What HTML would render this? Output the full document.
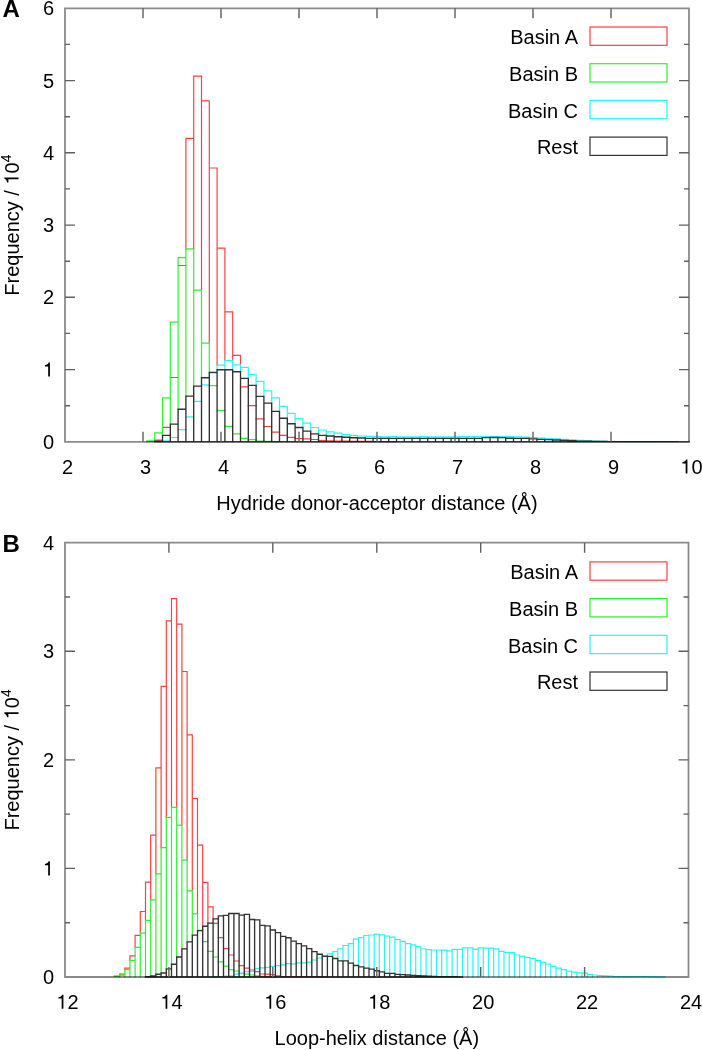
<!DOCTYPE html>
<html><head><meta charset="utf-8"><style>
html,body{margin:0;padding:0;background:#fff;}
body{width:702px;height:1050px;overflow:hidden;}
svg{display:block;will-change:transform;}
.t{font-family:"Liberation Sans",sans-serif;font-size:20px;fill:#000;}
.sup{font-size:14px;}
.h1{fill:transparent;}
.L{font-family:"Liberation Sans",sans-serif;font-size:24px;font-weight:bold;fill:#000;}
</style></head><body>
<svg width="702" height="1050" viewBox="0 0 702 1050">
<rect width="702" height="1050" fill="#fff"/>
<clipPath id="cA"><rect x="64.0" y="7.3" width="626.0" height="435.5"/></clipPath>
<g clip-path="url(#cA)">
<path d="M185.9 248.9V138.4M193.7 248.9V76.2M201.5 290.1V76.2M209.3 343.1V100.8M217.1 365.2V168.0M224.9 360.6V248.2M232.7 360.6V311.8M240.5 364.9V355.4M146.9 441.5H154.7M154.7 440.1H162.5M162.5 427.4H170.3M170.3 377.5H178.1M178.1 265.5H185.9M185.9 138.4H193.7M193.7 76.2H201.5M201.5 100.8H209.3M209.3 168.0H217.1M217.1 248.2H224.9M224.9 311.8H232.7M232.7 355.4H240.5M240.5 386.8H248.3M248.3 405.7H256.1M256.1 418.8H263.9M263.9 426.5H271.7M271.7 432.1H279.5M279.5 435.4H287.3M287.3 437.4H295.1M295.1 438.5H302.9M302.9 438.9H310.7M310.7 439.5H318.5M318.5 440.6H326.3M326.3 440.9H334.1M334.1 441.1H341.9M341.9 441.2H349.7M349.7 441.3H357.5M357.5 441.4H365.3M365.3 441.4H373.1M373.1 441.5H380.9M380.9 441.6H388.7M388.7 441.7H396.5" fill="none" stroke="#ff4040" stroke-width="1.2" stroke-linecap="square"/>
<path d="M146.9 441.8V440.9M154.7 441.2V432.8M162.5 435.4V397.8M170.3 424.1V322.1M178.1 409.2V257.6M185.9 396.1V248.9M193.7 386.1V248.9M201.5 377.7V290.1M209.3 372.3V343.1M146.9 440.9H154.7M154.7 432.8H162.5M162.5 397.8H170.3M170.3 322.1H178.1M178.1 257.6H185.9M185.9 248.9H193.7M193.7 290.1H201.5M201.5 343.1H209.3M209.3 385.7H217.1M217.1 410.4H224.9M224.9 426.3H232.7M232.7 433.9H240.5M240.5 438.3H248.3M248.3 439.6H256.1M256.1 441.1H263.9M263.9 441.4H271.7M271.7 441.6H279.5" fill="none" stroke="#30f030" stroke-width="1.2" stroke-linecap="square"/>
<path d="M217.1 369.7V365.2M224.9 369.7V360.6M232.7 369.7V360.6M240.5 371.7V364.9M248.3 378.4V367.4M256.1 385.4V374.5M263.9 396.4V381.4M271.7 403.1V390.9M279.5 411.4V397.8M287.3 418.2V406.4M295.1 423.7V413.3M302.9 427.5V418.5M310.7 431.1V423.1M318.5 433.8V427.5M326.3 435.4V430.0M334.1 436.0V431.9M341.9 436.7V433.1M349.7 437.2V434.7M357.5 437.7V435.4M365.3 438.0V436.0M373.1 438.3V436.4M380.9 438.3V436.7M388.7 438.3V436.7M396.5 438.3V436.7M404.3 438.3V436.8M412.1 438.3V436.8M419.9 438.3V436.7M427.7 438.3V436.7M435.5 438.3V436.8M443.3 438.3V436.9M451.1 438.3V436.8M458.9 438.3V436.7M466.7 438.3V436.7M474.5 438.3V436.7M482.3 437.6V436.7M490.1 437.5V436.6M497.9 437.5V436.6M505.7 437.6V436.6M513.5 438.2V436.7M521.3 438.3V436.9M529.1 438.4V437.1M536.9 438.8V437.5M544.7 439.3V438.2M552.5 439.6V438.5M560.3 440.0V438.9M568.1 440.4V439.3M575.9 440.7V439.8M583.7 441.1V440.4M591.5 441.2V440.7M599.3 441.4V441.1M607.1 441.5V441.4M614.9 441.6V441.5M162.5 440.9H170.3M170.3 437.5H178.1M178.1 429.6H185.9M185.9 416.8H193.7M193.7 401.3H201.5M201.5 384.9H209.3M209.3 372.8H217.1M217.1 365.2H224.9M224.9 360.6H232.7M232.7 364.9H240.5M240.5 367.4H248.3M248.3 374.5H256.1M256.1 381.4H263.9M263.9 390.9H271.7M271.7 397.8H279.5M279.5 406.4H287.3M287.3 413.3H295.1M295.1 418.5H302.9M302.9 423.1H310.7M310.7 427.5H318.5M318.5 430.0H326.3M326.3 431.9H334.1M334.1 433.1H341.9M341.9 434.7H349.7M349.7 435.4H357.5M357.5 436.0H365.3M365.3 436.4H373.1M373.1 436.7H380.9M380.9 436.8H388.7M388.7 436.7H396.5M396.5 436.8H404.3M404.3 436.9H412.1M412.1 436.8H419.9M419.9 436.7H427.7M427.7 436.8H435.5M435.5 436.9H443.3M443.3 436.9H451.1M451.1 436.8H458.9M458.9 436.7H466.7M466.7 436.7H474.5M474.5 436.7H482.3M482.3 436.7H490.1M490.1 436.6H497.9M497.9 436.6H505.7M505.7 436.7H513.5M513.5 436.9H521.3M521.3 437.1H529.1M529.1 437.5H536.9M536.9 438.2H544.7M544.7 438.5H552.5M552.5 438.9H560.3M560.3 439.3H568.1M568.1 439.8H575.9M575.9 440.4H583.7M583.7 440.7H591.5M591.5 441.1H599.3M599.3 441.4H607.1M607.1 441.5H614.9M614.9 441.7H622.7M622.7 441.7H630.5M630.5 441.7H638.3M638.3 441.7H646.1M646.1 441.7H653.9M653.9 441.7H661.7M661.7 441.7H669.5" fill="none" stroke="#28f6f6" stroke-width="1.2" stroke-linecap="square"/>
<path d="M154.7 441.8V441.2M162.5 441.8V435.4M170.3 441.8V424.1M178.1 441.8V409.2M185.9 441.8V396.1M193.7 441.8V386.1M201.5 441.8V377.7M209.3 441.8V372.3M217.1 441.8V369.7M224.9 441.8V369.7M232.7 441.8V369.7M240.5 441.8V371.7M248.3 441.8V378.4M256.1 441.8V385.4M263.9 441.8V396.4M271.7 441.8V403.1M279.5 441.8V411.4M287.3 441.8V418.2M295.1 441.8V423.7M302.9 441.8V427.5M310.7 441.8V431.1M318.5 441.8V433.8M326.3 441.8V435.4M334.1 441.8V436.0M341.9 441.8V436.7M349.7 441.8V437.2M357.5 441.8V437.7M365.3 441.8V438.0M373.1 441.8V438.3M380.9 441.8V438.3M388.7 441.8V438.3M396.5 441.8V438.3M404.3 441.8V438.3M412.1 441.8V438.3M419.9 441.8V438.3M427.7 441.8V438.3M435.5 441.8V438.3M443.3 441.8V438.3M451.1 441.8V438.3M458.9 441.8V438.3M466.7 441.8V438.3M474.5 441.8V438.3M482.3 441.8V437.6M490.1 441.8V437.5M497.9 441.8V437.5M505.7 441.8V437.6M513.5 441.8V438.2M521.3 441.8V438.3M529.1 441.8V438.4M536.9 441.8V438.8M544.7 441.8V439.3M552.5 441.8V439.6M560.3 441.8V440.0M568.1 441.8V440.4M575.9 441.8V440.7M583.7 441.8V441.1M591.5 441.8V441.2M599.3 441.8V441.4M607.1 441.8V441.5M614.9 441.8V441.6M622.7 441.8V441.6M630.5 441.8V441.6M638.3 441.8V441.7M646.1 441.8V441.7M653.9 441.8V441.7M661.7 441.8V441.7M669.5 441.8V441.7M677.3 441.8V441.7M154.7 441.2H162.5M154.7 441.8H162.5M162.5 435.4H170.3M162.5 441.8H170.3M170.3 424.1H178.1M170.3 441.8H178.1M178.1 409.2H185.9M178.1 441.8H185.9M185.9 396.1H193.7M185.9 441.8H193.7M193.7 386.1H201.5M193.7 441.8H201.5M201.5 377.7H209.3M201.5 441.8H209.3M209.3 372.3H217.1M209.3 441.8H217.1M217.1 369.7H224.9M217.1 441.8H224.9M224.9 369.7H232.7M224.9 441.8H232.7M232.7 371.7H240.5M232.7 441.8H240.5M240.5 378.4H248.3M240.5 441.8H248.3M248.3 385.4H256.1M248.3 441.8H256.1M256.1 396.4H263.9M256.1 441.8H263.9M263.9 403.1H271.7M263.9 441.8H271.7M271.7 411.4H279.5M271.7 441.8H279.5M279.5 418.2H287.3M279.5 441.8H287.3M287.3 423.7H295.1M287.3 441.8H295.1M295.1 427.5H302.9M295.1 441.8H302.9M302.9 431.1H310.7M302.9 441.8H310.7M310.7 433.8H318.5M310.7 441.8H318.5M318.5 435.4H326.3M318.5 441.8H326.3M326.3 436.0H334.1M326.3 441.8H334.1M334.1 436.7H341.9M334.1 441.8H341.9M341.9 437.2H349.7M341.9 441.8H349.7M349.7 437.7H357.5M349.7 441.8H357.5M357.5 438.0H365.3M357.5 441.8H365.3M365.3 438.3H373.1M365.3 441.8H373.1M373.1 438.3H380.9M373.1 441.8H380.9M380.9 438.3H388.7M380.9 441.8H388.7M388.7 438.3H396.5M388.7 441.8H396.5M396.5 438.3H404.3M396.5 441.8H404.3M404.3 438.3H412.1M404.3 441.8H412.1M412.1 438.3H419.9M412.1 441.8H419.9M419.9 438.3H427.7M419.9 441.8H427.7M427.7 438.3H435.5M427.7 441.8H435.5M435.5 438.3H443.3M435.5 441.8H443.3M443.3 438.3H451.1M443.3 441.8H451.1M451.1 438.3H458.9M451.1 441.8H458.9M458.9 438.3H466.7M458.9 441.8H466.7M466.7 438.3H474.5M466.7 441.8H474.5M474.5 438.3H482.3M474.5 441.8H482.3M482.3 437.6H490.1M482.3 441.8H490.1M490.1 437.5H497.9M490.1 441.8H497.9M497.9 437.6H505.7M497.9 441.8H505.7M505.7 438.2H513.5M505.7 441.8H513.5M513.5 438.3H521.3M513.5 441.8H521.3M521.3 438.4H529.1M521.3 441.8H529.1M529.1 438.8H536.9M529.1 441.8H536.9M536.9 439.3H544.7M536.9 441.8H544.7M544.7 439.6H552.5M544.7 441.8H552.5M552.5 440.0H560.3M552.5 441.8H560.3M560.3 440.4H568.1M560.3 441.8H568.1M568.1 440.7H575.9M568.1 441.8H575.9M575.9 441.1H583.7M575.9 441.8H583.7M583.7 441.2H591.5M583.7 441.8H591.5M591.5 441.4H599.3M591.5 441.8H599.3M599.3 441.5H607.1M599.3 441.8H607.1M607.1 441.6H614.9M607.1 441.8H614.9M614.9 441.6H622.7M614.9 441.8H622.7M622.7 441.6H630.5M622.7 441.8H630.5M630.5 441.7H638.3M630.5 441.8H638.3M638.3 441.7H646.1M638.3 441.8H646.1M646.1 441.7H653.9M646.1 441.8H653.9M653.9 441.7H661.7M653.9 441.8H661.7M661.7 441.7H669.5M661.7 441.8H669.5M669.5 441.7H677.3M669.5 441.8H677.3M677.3 441.8H685.1M677.3 441.8H685.1M685.1 441.8H692.9M685.1 441.8H692.9" fill="none" stroke="#333333" stroke-width="1.35" stroke-linecap="square"/>
</g>
<path d="M65.0 8.3H689.0V441.8H65.0Z" fill="none" stroke="#000" stroke-opacity="0.46" stroke-width="1.8"/>
<path d="M143.0 441.8v-10M143.0 8.3v10M221.0 441.8v-10M221.0 8.3v10M299.0 441.8v-10M299.0 8.3v10M377.0 441.8v-10M377.0 8.3v10M455.0 441.8v-10M455.0 8.3v10M533.0 441.8v-10M533.0 8.3v10M611.0 441.8v-10M611.0 8.3v10M65.0 369.6h10M689.0 369.6h-10M65.0 297.3h10M689.0 297.3h-10M65.0 225.1h10M689.0 225.1h-10M65.0 152.8h10M689.0 152.8h-10M65.0 80.6h10M689.0 80.6h-10M65.0 405.7h5M689.0 405.7h-5M65.0 333.4h5M689.0 333.4h-5M65.0 261.2h5M689.0 261.2h-5M65.0 188.9h5M689.0 188.9h-5M65.0 116.7h5M689.0 116.7h-5M65.0 44.4h5M689.0 44.4h-5" fill="none" stroke="#606060" stroke-width="1.4"/>
<text x="67.5" y="473.5" text-anchor="middle" class="t">2</text>
<text x="145.5" y="473.5" text-anchor="middle" class="t">3</text>
<text x="223.5" y="473.5" text-anchor="middle" class="t">4</text>
<text x="301.5" y="473.5" text-anchor="middle" class="t">5</text>
<text x="379.5" y="473.5" text-anchor="middle" class="t">6</text>
<text x="457.5" y="473.5" text-anchor="middle" class="t">7</text>
<text x="535.5" y="473.5" text-anchor="middle" class="t">8</text>
<text x="613.5" y="473.5" text-anchor="middle" class="t">9</text>
<text x="691.5" y="473.5" text-anchor="middle" class="t"><tspan class="h1">1</tspan>0</text>
<text x="54" y="448.8" text-anchor="end" class="t">0</text>
<text x="54" y="376.6" text-anchor="end" class="t"><tspan class="h1">1</tspan></text>
<text x="54" y="304.3" text-anchor="end" class="t">2</text>
<text x="54" y="232.1" text-anchor="end" class="t">3</text>
<text x="54" y="159.8" text-anchor="end" class="t">4</text>
<text x="54" y="87.6" text-anchor="end" class="t">5</text>
<text x="54" y="15.3" text-anchor="end" class="t">6</text>
<text x="377.0" y="509.8" text-anchor="middle" class="t">Hydride donor-acceptor distance (Å)</text>
<text transform="translate(18.5 225.1) rotate(-90)" text-anchor="middle" class="t">Frequency / <tspan class="h1">1</tspan>0<tspan class="sup" dy="-7.6">4</tspan></text>
<text x="2.5" y="17.3" class="L">A</text>
<rect x="590" y="27.0" width="77" height="18.3" fill="none" stroke="#ff4040" stroke-width="1.2"/>
<text x="578" y="44.3" text-anchor="end" class="t">Basin A</text>
<rect x="590" y="63.7" width="77" height="18.3" fill="none" stroke="#30f030" stroke-width="1.2"/>
<text x="578" y="81.0" text-anchor="end" class="t">Basin B</text>
<rect x="590" y="100.4" width="77" height="18.3" fill="none" stroke="#28f6f6" stroke-width="1.2"/>
<text x="578" y="117.7" text-anchor="end" class="t">Basin C</text>
<rect x="590" y="137.1" width="77" height="18.3" fill="none" stroke="#333333" stroke-width="1.2"/>
<text x="578" y="154.4" text-anchor="end" class="t">Rest</text>
<clipPath id="cB"><rect x="64.0" y="541.7" width="625.5" height="436.3"/></clipPath>
<g clip-path="url(#cB)">
<path d="M114.4 976.5V976.2M119.6 975.2V974.2M124.8 969.6V968.2M129.9 960.4V955.9M135.1 947.4V935.4M140.3 933.2V911.5M145.5 920.3V882.1M150.7 899.8V835.2M155.9 873.9V767.8M161.1 847.6V686.3M166.3 817.4V620.9M171.5 807.3V598.6M176.7 807.3V598.6M181.9 825.2V624.1M187.1 860.1V671.5M192.3 890.9V734.9M197.5 913.8V798.5M202.7 926.2V845.2M207.9 923.1V882.3M213.1 918.9V906.9M114.4 976.2H119.6M119.6 974.2H124.8M124.8 968.2H129.9M129.9 955.9H135.1M135.1 935.4H140.3M140.3 911.5H145.5M145.5 882.1H150.7M150.7 835.2H155.9M155.9 767.8H161.1M161.1 686.3H166.3M166.3 620.9H171.5M171.5 598.6H176.7M176.7 624.1H181.9M181.9 671.5H187.1M187.1 734.9H192.3M192.3 798.5H197.5M197.5 845.2H202.7M202.7 882.3H207.9M207.9 906.9H213.1M213.1 923.3H218.3M218.3 937.7H223.5M223.5 948.6H228.7M228.7 955.0H233.9M233.9 961.0H239.1M239.1 965.6H244.3M244.3 968.2H249.5M249.5 971.0H254.6M254.6 971.7H259.8M259.8 974.0H265.0M265.0 974.2H270.2M270.2 974.7H275.4M275.4 975.9H280.6M280.6 976.5H285.8M285.8 976.5H291.0M291.0 976.5H296.2M296.2 976.6H301.4M301.4 976.6H306.6M306.6 976.7H311.8M311.8 976.7H317.0M317.0 976.8H322.2M322.2 976.8H327.4" fill="none" stroke="#ff4040" stroke-width="1.2" stroke-linecap="square"/>
<path d="M114.4 977.0V976.5M119.6 977.0V975.2M124.8 977.0V969.6M129.9 977.0V960.4M135.1 977.0V947.4M140.3 977.0V933.2M145.5 976.6V920.3M150.7 975.9V899.8M155.9 974.2V873.9M161.1 973.0V847.6M166.3 968.9V817.4M171.5 964.2V807.3M176.7 957.0V807.3M181.9 948.9V825.2M187.1 941.9V860.1M192.3 935.1V890.9M197.5 930.6V913.8M114.4 976.5H119.6M119.6 975.2H124.8M124.8 969.6H129.9M129.9 960.4H135.1M135.1 947.4H140.3M140.3 933.2H145.5M145.5 920.3H150.7M150.7 899.8H155.9M155.9 873.9H161.1M161.1 847.6H166.3M166.3 817.4H171.5M171.5 807.3H176.7M176.7 825.2H181.9M181.9 860.1H187.1M187.1 890.9H192.3M192.3 913.8H197.5M197.5 930.3H202.7M202.7 941.7H207.9M207.9 951.3H213.1M213.1 957.0H218.3M218.3 961.8H223.5M223.5 966.1H228.7M228.7 969.6H233.9M233.9 971.0H239.1M239.1 973.6H244.3M244.3 974.2H249.5M249.5 975.0H254.6M254.6 975.9H259.8M259.8 976.3H265.0M265.0 976.6H270.2M270.2 976.8H275.4" fill="none" stroke="#30f030" stroke-width="1.2" stroke-linecap="square"/>
<path d="M327.4 956.2V953.8M332.6 956.4V951.6M337.8 958.5V948.8M343.0 960.9V945.5M348.2 960.9V943.7M353.4 963.1V939.1M358.6 965.5V937.7M363.8 966.9V935.5M369.0 968.1V935.0M374.2 969.1V934.1M379.3 970.7V934.1M384.5 971.9V934.8M389.7 973.4V936.0M394.9 973.4V937.2M400.1 974.3V939.7M405.3 974.6V941.3M410.5 975.0V943.7M415.7 975.4V944.9M420.9 975.7V946.6M426.1 975.9V949.0M431.3 976.1V949.6M436.5 976.3V950.0M441.7 976.6V950.0M446.9 976.6V950.2M452.1 976.6V949.3M457.3 976.7V949.3M462.5 976.8V947.8M467.7 977.0V947.8M472.9 977.0V947.8M478.1 977.0V947.8M483.3 977.0V947.8M488.5 977.0V948.1M493.7 977.0V948.1M498.9 977.0V948.8M504.0 977.0V951.4M509.2 977.0V952.4M514.4 977.0V952.6M519.6 977.0V955.0M524.8 977.0V956.2M530.0 977.0V957.3M535.2 977.0V958.3M540.4 977.0V960.4M545.6 977.0V962.3M550.8 977.0V964.0M556.0 977.0V966.3M561.2 977.0V968.2M566.4 977.0V969.6M571.6 977.0V971.2M576.8 977.0V972.2M582.0 977.0V972.8M587.2 977.0V973.2M592.4 977.0V974.4M597.6 977.0V975.0M602.8 977.0V975.6M608.0 977.0V975.8M613.2 977.0V976.2M618.4 977.0V976.6M623.6 977.0V976.6M628.7 977.0V976.6M633.9 977.0V976.6M639.1 977.0V976.6M644.3 977.0V976.6M649.5 977.0V976.6M654.7 977.0V976.6M659.9 977.0V976.8M665.1 977.0V976.8M213.1 976.8H218.3M218.3 976.5H223.5M223.5 976.1H228.7M228.7 975.9H233.9M233.9 974.2H239.1M239.1 973.2H244.3M244.3 971.6H249.5M249.5 969.6H254.6M254.6 968.7H259.8M259.8 967.9H265.0M265.0 967.3H270.2M270.2 966.4H275.4M275.4 965.6H280.6M280.6 964.8H285.8M285.8 963.6H291.0M291.0 963.9H296.2M296.2 962.8H301.4M301.4 962.8H306.6M306.6 962.2H311.8M311.8 960.0H317.0M317.0 958.0H322.2M322.2 956.4H327.4M327.4 953.8H332.6M332.6 951.6H337.8M337.8 948.8H343.0M343.0 945.5H348.2M348.2 943.7H353.4M353.4 939.1H358.6M358.6 937.7H363.8M363.8 935.5H369.0M369.0 935.0H374.2M374.2 934.1H379.3M379.3 934.8H384.5M384.5 936.0H389.7M389.7 937.2H394.9M394.9 939.7H400.1M400.1 941.3H405.3M405.3 943.7H410.5M410.5 944.9H415.7M415.7 946.6H420.9M420.9 949.0H426.1M426.1 949.6H431.3M431.3 950.0H436.5M436.5 950.0H441.7M441.7 950.2H446.9M446.9 950.8H452.1M452.1 949.3H457.3M457.3 949.3H462.5M462.5 947.8H467.7M467.7 947.8H472.9M472.9 949.3H478.1M478.1 947.8H483.3M483.3 948.1H488.5M488.5 948.1H493.7M493.7 948.8H498.9M498.9 951.4H504.0M504.0 952.4H509.2M509.2 952.6H514.4M514.4 955.0H519.6M519.6 956.2H524.8M524.8 957.3H530.0M530.0 958.3H535.2M535.2 960.4H540.4M540.4 962.3H545.6M545.6 964.0H550.8M550.8 966.3H556.0M556.0 968.2H561.2M561.2 969.6H566.4M566.4 971.2H571.6M571.6 972.2H576.8M576.8 972.8H582.0M582.0 973.2H587.2M587.2 974.4H592.4M592.4 975.0H597.6M597.6 975.6H602.8M602.8 975.8H608.0M608.0 976.2H613.2M613.2 976.6H618.4M618.4 976.6H623.6M623.6 976.6H628.7M628.7 976.6H633.9M633.9 976.6H639.1M639.1 976.6H644.3M644.3 976.6H649.5M649.5 976.6H654.7M654.7 976.8H659.9M659.9 976.8H665.1" fill="none" stroke="#28f6f6" stroke-width="1.2" stroke-linecap="square"/>
<path d="M145.5 977.0V976.6M150.7 977.0V975.9M155.9 977.0V974.2M161.1 977.0V973.0M166.3 977.0V968.9M171.5 977.0V964.2M176.7 977.0V957.0M181.9 977.0V948.9M187.1 977.0V941.9M192.3 977.0V935.1M197.5 977.0V930.6M202.7 977.0V926.2M207.9 977.0V923.1M213.1 977.0V918.9M218.3 977.0V915.8M223.5 977.0V915.4M228.7 977.0V913.5M233.9 977.0V913.5M239.1 977.0V913.5M244.3 977.0V914.4M249.5 977.0V914.4M254.6 977.0V919.5M259.8 977.0V919.8M265.0 977.0V925.4M270.2 977.0V925.8M275.4 977.0V930.0M280.6 977.0V932.6M285.8 977.0V936.3M291.0 977.0V937.7M296.2 977.0V941.1M301.4 977.0V943.6M306.6 977.0V945.8M311.8 977.0V948.6M317.0 977.0V951.6M322.2 977.0V954.2M327.4 977.0V956.2M332.6 977.0V956.4M337.8 977.0V958.5M343.0 977.0V960.9M348.2 977.0V960.9M353.4 977.0V963.1M358.6 977.0V965.5M363.8 977.0V966.9M369.0 977.0V968.1M374.2 977.0V969.1M379.3 977.0V970.7M384.5 977.0V971.9M389.7 977.0V973.4M394.9 977.0V973.4M400.1 977.0V974.3M405.3 977.0V974.6M410.5 977.0V975.0M415.7 977.0V975.4M420.9 977.0V975.7M426.1 977.0V975.9M431.3 977.0V976.1M436.5 977.0V976.3M441.7 977.0V976.6M446.9 977.0V976.6M452.1 977.0V976.6M457.3 977.0V976.7M462.5 977.0V976.8M145.5 976.6H150.7M145.5 977.0H150.7M150.7 975.9H155.9M150.7 977.0H155.9M155.9 974.2H161.1M155.9 977.0H161.1M161.1 973.0H166.3M161.1 977.0H166.3M166.3 968.9H171.5M166.3 977.0H171.5M171.5 964.2H176.7M171.5 977.0H176.7M176.7 957.0H181.9M176.7 977.0H181.9M181.9 948.9H187.1M181.9 977.0H187.1M187.1 941.9H192.3M187.1 977.0H192.3M192.3 935.1H197.5M192.3 977.0H197.5M197.5 930.6H202.7M197.5 977.0H202.7M202.7 926.2H207.9M202.7 977.0H207.9M207.9 923.1H213.1M207.9 977.0H213.1M213.1 918.9H218.3M213.1 977.0H218.3M218.3 915.8H223.5M218.3 977.0H223.5M223.5 915.4H228.7M223.5 977.0H228.7M228.7 913.5H233.9M228.7 977.0H233.9M233.9 913.5H239.1M233.9 977.0H239.1M239.1 915.1H244.3M239.1 977.0H244.3M244.3 914.4H249.5M244.3 977.0H249.5M249.5 919.5H254.6M249.5 977.0H254.6M254.6 919.8H259.8M254.6 977.0H259.8M259.8 925.4H265.0M259.8 977.0H265.0M265.0 925.8H270.2M265.0 977.0H270.2M270.2 930.0H275.4M270.2 977.0H275.4M275.4 932.6H280.6M275.4 977.0H280.6M280.6 936.3H285.8M280.6 977.0H285.8M285.8 937.7H291.0M285.8 977.0H291.0M291.0 941.1H296.2M291.0 977.0H296.2M296.2 943.6H301.4M296.2 977.0H301.4M301.4 945.8H306.6M301.4 977.0H306.6M306.6 948.6H311.8M306.6 977.0H311.8M311.8 951.6H317.0M311.8 977.0H317.0M317.0 954.2H322.2M317.0 977.0H322.2M322.2 956.2H327.4M322.2 977.0H327.4M327.4 956.4H332.6M327.4 977.0H332.6M332.6 958.5H337.8M332.6 977.0H337.8M337.8 960.9H343.0M337.8 977.0H343.0M343.0 960.9H348.2M343.0 977.0H348.2M348.2 963.1H353.4M348.2 977.0H353.4M353.4 965.5H358.6M353.4 977.0H358.6M358.6 966.9H363.8M358.6 977.0H363.8M363.8 968.1H369.0M363.8 977.0H369.0M369.0 969.1H374.2M369.0 977.0H374.2M374.2 970.7H379.3M374.2 977.0H379.3M379.3 971.9H384.5M379.3 977.0H384.5M384.5 973.4H389.7M384.5 977.0H389.7M389.7 973.4H394.9M389.7 977.0H394.9M394.9 974.3H400.1M394.9 977.0H400.1M400.1 974.6H405.3M400.1 977.0H405.3M405.3 975.0H410.5M405.3 977.0H410.5M410.5 975.4H415.7M410.5 977.0H415.7M415.7 975.7H420.9M415.7 977.0H420.9M420.9 975.9H426.1M420.9 977.0H426.1M426.1 976.1H431.3M426.1 977.0H431.3M431.3 976.3H436.5M431.3 977.0H436.5M436.5 976.6H441.7M436.5 977.0H441.7M441.7 976.6H446.9M441.7 977.0H446.9M446.9 976.6H452.1M446.9 977.0H452.1M452.1 976.7H457.3M452.1 977.0H457.3M457.3 976.8H462.5M457.3 977.0H462.5" fill="none" stroke="#333333" stroke-width="1.35" stroke-linecap="square"/>
</g>
<path d="M65.0 542.7H688.5V977.0H65.0Z" fill="none" stroke="#000" stroke-opacity="0.46" stroke-width="1.8"/>
<path d="M168.9 977.0v-10M168.9 542.7v10M272.8 977.0v-10M272.8 542.7v10M376.8 977.0v-10M376.8 542.7v10M480.7 977.0v-10M480.7 542.7v10M584.6 977.0v-10M584.6 542.7v10M65.0 868.4h10M688.5 868.4h-10M65.0 759.9h10M688.5 759.9h-10M65.0 651.3h10M688.5 651.3h-10M65.0 922.7h5M688.5 922.7h-5M65.0 814.1h5M688.5 814.1h-5M65.0 705.6h5M688.5 705.6h-5M65.0 597.0h5M688.5 597.0h-5" fill="none" stroke="#606060" stroke-width="1.4"/>
<text x="67.5" y="1008.7" text-anchor="middle" class="t"><tspan class="h1">1</tspan>2</text>
<text x="171.4" y="1008.7" text-anchor="middle" class="t"><tspan class="h1">1</tspan>4</text>
<text x="275.3" y="1008.7" text-anchor="middle" class="t"><tspan class="h1">1</tspan>6</text>
<text x="379.2" y="1008.7" text-anchor="middle" class="t"><tspan class="h1">1</tspan>8</text>
<text x="483.2" y="1008.7" text-anchor="middle" class="t">20</text>
<text x="587.1" y="1008.7" text-anchor="middle" class="t">22</text>
<text x="691.0" y="1008.7" text-anchor="middle" class="t">24</text>
<text x="54" y="984.0" text-anchor="end" class="t">0</text>
<text x="54" y="875.4" text-anchor="end" class="t"><tspan class="h1">1</tspan></text>
<text x="54" y="766.9" text-anchor="end" class="t">2</text>
<text x="54" y="658.3" text-anchor="end" class="t">3</text>
<text x="54" y="549.7" text-anchor="end" class="t">4</text>
<text x="376.8" y="1044.8" text-anchor="middle" class="t">Loop-helix distance (Å)</text>
<text transform="translate(18.5 759.9) rotate(-90)" text-anchor="middle" class="t">Frequency / <tspan class="h1">1</tspan>0<tspan class="sup" dy="-7.6">4</tspan></text>
<text x="2.5" y="551.7" class="L">B</text>
<rect x="590" y="561.9" width="77" height="18.3" fill="none" stroke="#ff4040" stroke-width="1.2"/>
<text x="578" y="579.2" text-anchor="end" class="t">Basin A</text>
<rect x="590" y="598.6" width="77" height="18.3" fill="none" stroke="#30f030" stroke-width="1.2"/>
<text x="578" y="615.9" text-anchor="end" class="t">Basin B</text>
<rect x="590" y="635.3" width="77" height="18.3" fill="none" stroke="#28f6f6" stroke-width="1.2"/>
<text x="578" y="652.6" text-anchor="end" class="t">Basin C</text>
<rect x="590" y="672.0" width="77" height="18.3" fill="none" stroke="#333333" stroke-width="1.2"/>
<text x="578" y="689.3" text-anchor="end" class="t">Rest</text>
<path transform="translate(680.38 473.50) scale(0.02 -0.02)" d="M352 0L352 703L285 703C268 636 210 583 103 572L103 505L265 505L265 0Z" fill="#000"/>
<path transform="translate(42.88 376.60) scale(0.02 -0.02)" d="M352 0L352 703L285 703C268 636 210 583 103 572L103 505L265 505L265 0Z" fill="#000"/>
<path transform="translate(18.5 225.1) rotate(-90) translate(40.56 0.00) scale(0.02 -0.02)" d="M352 0L352 703L285 703C268 636 210 583 103 572L103 505L265 505L265 0Z" fill="#000"/>
<path transform="translate(56.38 1008.70) scale(0.02 -0.02)" d="M352 0L352 703L285 703C268 636 210 583 103 572L103 505L265 505L265 0Z" fill="#000"/>
<path transform="translate(160.27 1008.70) scale(0.02 -0.02)" d="M352 0L352 703L285 703C268 636 210 583 103 572L103 505L265 505L265 0Z" fill="#000"/>
<path transform="translate(264.17 1008.70) scale(0.02 -0.02)" d="M352 0L352 703L285 703C268 636 210 583 103 572L103 505L265 505L265 0Z" fill="#000"/>
<path transform="translate(368.08 1008.70) scale(0.02 -0.02)" d="M352 0L352 703L285 703C268 636 210 583 103 572L103 505L265 505L265 0Z" fill="#000"/>
<path transform="translate(42.88 875.40) scale(0.02 -0.02)" d="M352 0L352 703L285 703C268 636 210 583 103 572L103 505L265 505L265 0Z" fill="#000"/>
<path transform="translate(18.5 759.9) rotate(-90) translate(40.56 0.00) scale(0.02 -0.02)" d="M352 0L352 703L285 703C268 636 210 583 103 572L103 505L265 505L265 0Z" fill="#000"/>
</svg>
</body></html>
